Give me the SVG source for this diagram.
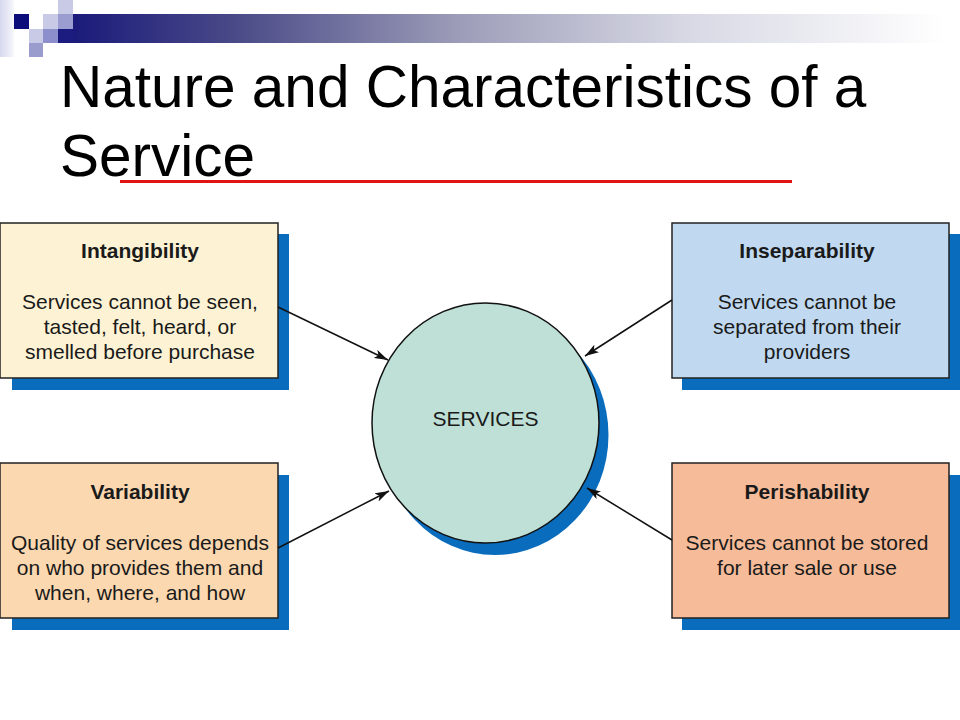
<svg xmlns="http://www.w3.org/2000/svg" width="960" height="720" viewBox="0 0 960 720">
<defs>
<linearGradient id="bar" x1="58" y1="0" x2="945" y2="0" gradientUnits="userSpaceOnUse">
<stop offset="0" stop-color="#16167a"/>
<stop offset="0.2" stop-color="#4a4a88"/>
<stop offset="0.45" stop-color="#9c9cb8"/>
<stop offset="0.7" stop-color="#d6d7e3"/>
<stop offset="1" stop-color="#ffffff"/>
</linearGradient>
<linearGradient id="band" x1="0" y1="0" x2="1" y2="0">
<stop offset="0" stop-color="#d6d8ee"/>
<stop offset="1" stop-color="#f7f7fc"/>
</linearGradient>
<marker id="ah" viewBox="0 0 14 9" refX="14" refY="4.5" markerWidth="14" markerHeight="9" markerUnits="userSpaceOnUse" orient="auto">
<path d="M0,0 L14,4.5 L0,9 L3.5,4.5 Z" fill="#111"/>
</marker>
<style>
.box{stroke:#222;stroke-width:1.5}
.shadow{fill:#0a6cbc}
.t{font-family:"Liberation Sans",Arial,sans-serif;font-size:21px;fill:#1a1a1a;text-anchor:middle}
.b{font-weight:bold}
.title{font-family:"Liberation Sans",Arial,sans-serif;font-size:58.5px;fill:#000}
.conn{stroke:#111;stroke-width:1.5;fill:none;marker-end:url(#ah)}
</style>
</defs>
<rect width="960" height="720" fill="#fff"/>
<g id="header">
<rect x="0" y="0" width="14" height="57" fill="url(#band)"/>
<rect x="58" y="14" width="887" height="29" fill="url(#bar)"/>
<rect x="58" y="0" width="15" height="14" fill="#c9cbe6"/>
<rect x="14" y="14" width="15" height="15" fill="#0b0b7a"/>
<rect x="43" y="14" width="15" height="15" fill="#c9cbe6"/>
<rect x="58" y="14" width="15" height="15" fill="#9b9dd0"/>
<rect x="29" y="29" width="14" height="14" fill="#c9cbe6"/>
<rect x="43" y="29" width="15" height="14" fill="#8c8fcb"/>
<rect x="58" y="29" width="15" height="14" fill="#1b1b80"/>
<rect x="29" y="43" width="14" height="14" fill="#9a9cce"/>
</g>
<g id="title">
<text class="title" x="60" y="107">Nature and Characteristics of a</text>
<text class="title" x="60" y="176">Service</text>
<rect x="120" y="180" width="672" height="3" fill="#e01414"/>
</g>
<g id="services">
<ellipse cx="495" cy="435" rx="113.5" ry="120" class="shadow"/>
<ellipse cx="485.5" cy="423" rx="113.5" ry="120" fill="#bfe0d6" stroke="#111" stroke-width="1.5"/>
<text class="t" x="485.5" y="426">SERVICES</text>
</g>
<g id="intangibility">
<rect x="12" y="234" width="277" height="156" class="shadow"/>
<rect x="0" y="223" width="278" height="155" fill="#fdf3d4" class="box"/>
<text class="t b" x="140" y="258">Intangibility</text>
<text class="t" x="140" y="309">Services cannot be seen,</text>
<text class="t" x="140" y="334">tasted, felt, heard, or</text>
<text class="t" x="140" y="359">smelled before purchase</text>
</g>
<g id="inseparability">
<rect x="682" y="234" width="278" height="156" class="shadow"/>
<rect x="672" y="223" width="277" height="155" fill="#c0d9f0" class="box"/>
<text class="t b" x="807" y="258">Inseparability</text>
<text class="t" x="807" y="309">Services cannot be</text>
<text class="t" x="807" y="334">separated from their</text>
<text class="t" x="807" y="359">providers</text>
</g>
<g id="variability">
<rect x="12" y="475" width="277" height="155" class="shadow"/>
<rect x="0" y="463" width="278" height="155" fill="#fbd8b0" class="box"/>
<text class="t b" x="140" y="499">Variability</text>
<text class="t" x="140" y="550">Quality of services depends</text>
<text class="t" x="140" y="575">on who provides them and</text>
<text class="t" x="140" y="600">when, where, and how</text>
</g>
<g id="perishability">
<rect x="682" y="475" width="278" height="155" class="shadow"/>
<rect x="672" y="463" width="277" height="155" fill="#f6bb98" class="box"/>
<text class="t b" x="807" y="499">Perishability</text>
<text class="t" x="807" y="550">Services cannot be stored</text>
<text class="t" x="807" y="575">for later sale or use</text>
</g>
<g id="connectors">
<line class="conn" x1="278" y1="307" x2="388" y2="360"/>
<line class="conn" x1="278" y1="548" x2="389" y2="491"/>
<line class="conn" x1="672" y1="300" x2="585" y2="356"/>
<line class="conn" x1="672" y1="540" x2="587" y2="488"/>
</g>
</svg>
